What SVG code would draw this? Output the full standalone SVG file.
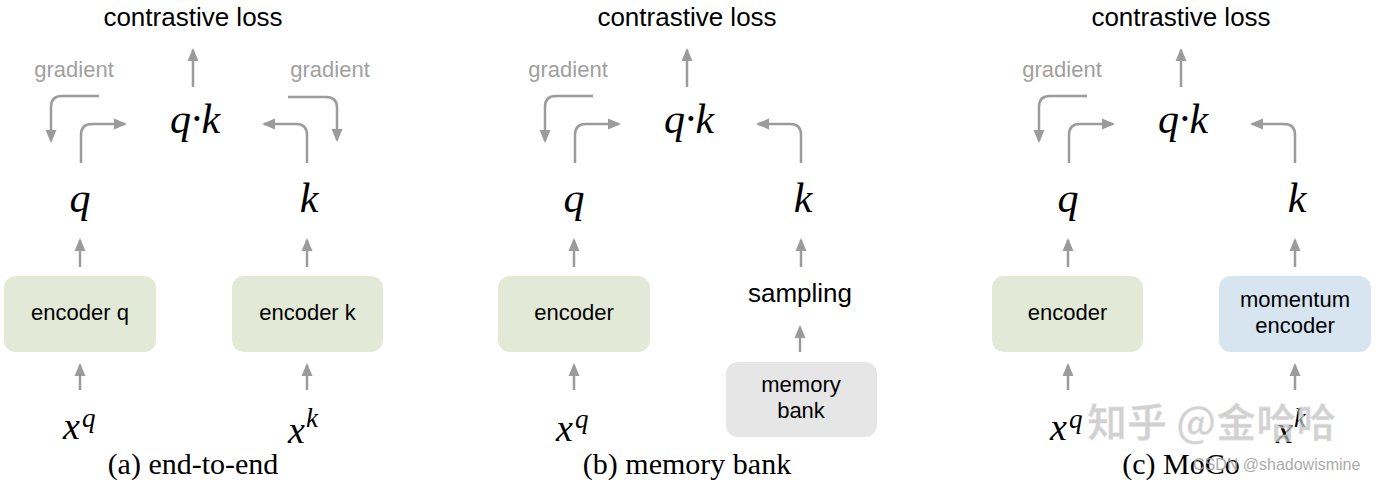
<svg xmlns="http://www.w3.org/2000/svg" width="1382" height="480" viewBox="0 0 1382 480">
<style>
.sans{font-family:"Liberation Sans",Arial,sans-serif;fill:#000}
.title{font-size:26px;text-anchor:middle}
.grad{font-family:"Liberation Sans",Arial,sans-serif;font-size:22px;fill:#a0a0a0;text-anchor:middle}
.lbl{font-size:22px;text-anchor:middle}
.math{font-family:"Liberation Serif","Times New Roman",serif;font-style:italic;fill:#000}
.big{font-size:42px;text-anchor:middle}
.cap{font-family:"Liberation Serif","Times New Roman",serif;font-size:30px;text-anchor:middle;fill:#000}
.green{fill:#e2ead7}
.blue{fill:#d7e5f0}
.gray{fill:#e6e6e6}
.conn path{fill:none;stroke:#9b9b9b;stroke-width:2.5;marker-end:url(#ah)}
</style>
<defs>
<marker id="ah" markerUnits="userSpaceOnUse" markerWidth="14" markerHeight="12" refX="11" refY="6" orient="auto">
<path d="M0,0.5 L13,6 L0,11.5 z" fill="#9b9b9b"/>
</marker>
</defs>
<rect width="1382" height="480" fill="#fff"/>

<g id="connectors" class="conn">
<!-- panel a -->
<path d="M193,87 V50"/>
<path d="M99,96 H62 Q51,96 51,107 V141"/>
<path d="M81,163 V135 Q81,124 92,124 H125"/>
<path d="M288,97 H326 Q337,97 337,108 V140"/>
<path d="M307,163 V135 Q307,124 296,124 H264"/>
<path d="M80,267 V240"/>
<path d="M307,267 V240"/>
<path d="M80,390 V365"/>
<path d="M307,390 V365"/>
<!-- panel b -->
<path d="M687,87 V50"/>
<path d="M593,96 H556 Q545,96 545,107 V141"/>
<path d="M575,163 V135 Q575,124 586,124 H619"/>
<path d="M801,163 V135 Q801,124 790,124 H758"/>
<path d="M574,267 V240"/>
<path d="M801,267 V240"/>
<path d="M800,352 V327"/>
<path d="M574,390 V365"/>
<!-- panel c -->
<path d="M1181,87 V50"/>
<path d="M1087,96 H1050 Q1039,96 1039,107 V141"/>
<path d="M1069,163 V135 Q1069,124 1080,124 H1113"/>
<path d="M1295,163 V135 Q1295,124 1284,124 H1252"/>
<path d="M1068,267 V240"/>
<path d="M1295,267 V240"/>
<path d="M1068,390 V365"/>
<path d="M1295,390 V365"/>
</g>

<!-- Panel (a) -->
<g id="a-loss"><text class="sans title" x="193" y="26">contrastive loss</text></g>
<g id="a-qk"><text class="math big" x="195" y="133">q·k</text></g>
<g id="a-grad-q"><text class="grad" x="74" y="77">gradient</text></g>
<g id="a-grad-k"><text class="grad" x="330" y="77">gradient</text></g>
<g id="a-q"><text class="math big" x="80" y="212">q</text></g>
<g id="a-k"><text class="math big" x="309" y="212">k</text></g>
<g id="a-enc-q"><rect class="green" x="4" y="276" width="152" height="76" rx="12"/><text class="sans lbl" x="80" y="320">encoder q</text></g>
<g id="a-enc-k"><rect class="green" x="232" y="276" width="151" height="76" rx="12"/><text class="sans lbl" x="307.5" y="320">encoder k</text></g>
<g id="a-xq"><text class="math" font-size="38" x="63" y="439">x<tspan font-size="27" x="82" y="427">q</tspan></text></g>
<g id="a-xk"><text class="math" font-size="38" x="288" y="443">x<tspan font-size="27" x="306" y="427">k</tspan></text></g>
<g id="a-cap"><text class="cap" x="193" y="474">(a) end-to-end</text></g>

<!-- Panel (b) -->
<g id="b-loss"><text class="sans title" x="687" y="26">contrastive loss</text></g>
<g id="b-qk"><text class="math big" x="689" y="133">q·k</text></g>
<g id="b-grad-q"><text class="grad" x="568" y="77">gradient</text></g>
<g id="b-q"><text class="math big" x="574" y="212">q</text></g>
<g id="b-k"><text class="math big" x="803" y="212">k</text></g>
<g id="b-enc"><rect class="green" x="498" y="276" width="152" height="76" rx="12"/><text class="sans lbl" x="574" y="320">encoder</text></g>
<g id="b-sampling"><text class="sans title" x="800" y="302">sampling</text></g>
<g id="b-memory"><rect class="gray" x="726" y="362" width="151" height="75" rx="12"/><text class="sans lbl" x="801" y="392">memory</text><text class="sans lbl" x="801" y="418">bank</text></g>
<g id="b-xq"><text class="math" font-size="38" x="556" y="441">x<tspan font-size="27" x="575" y="428">q</tspan></text></g>
<g id="b-cap"><text class="cap" x="687" y="474">(b) memory bank</text></g>

<!-- Panel (c) -->
<g id="c-loss"><text class="sans title" x="1181" y="26">contrastive loss</text></g>
<g id="c-qk"><text class="math big" x="1183" y="133">q·k</text></g>
<g id="c-grad-q"><text class="grad" x="1062" y="77">gradient</text></g>
<g id="c-q"><text class="math big" x="1068" y="212">q</text></g>
<g id="c-k"><text class="math big" x="1297" y="212">k</text></g>
<g id="c-enc"><rect class="green" x="992" y="276" width="151" height="76" rx="12"/><text class="sans lbl" x="1067.5" y="320">encoder</text></g>
<g id="c-momentum"><rect class="blue" x="1219" y="276" width="152" height="76" rx="12"/><text class="sans lbl" x="1295" y="307">momentum</text><text class="sans lbl" x="1295" y="333">encoder</text></g>
<g id="c-xq"><text class="math" font-size="38" x="1050" y="440">x<tspan font-size="27" x="1069" y="428">q</tspan></text></g>
<g id="c-xk"><text class="math" font-size="38" x="1276" y="443">x<tspan font-size="27" x="1294" y="427">k</tspan></text></g>
<g id="c-cap"><text class="cap" x="1181" y="474">(c) MoCo</text></g>

<!-- watermarks -->
<g id="watermark">
<text x="1087" y="437" font-family="'Noto Sans CJK SC',sans-serif" font-size="40" font-weight="bold" fill="#bdbdbd" fill-opacity="0.7" stroke="#fff" stroke-width="1.2" stroke-opacity="0.5">知乎 @金哈哈</text>
<text x="1193" y="470" font-family="'Liberation Sans',Arial,sans-serif" font-size="16" fill="#a0a0a0" fill-opacity="0.9">CSDN @shadowismine</text>
</g>
</svg>
